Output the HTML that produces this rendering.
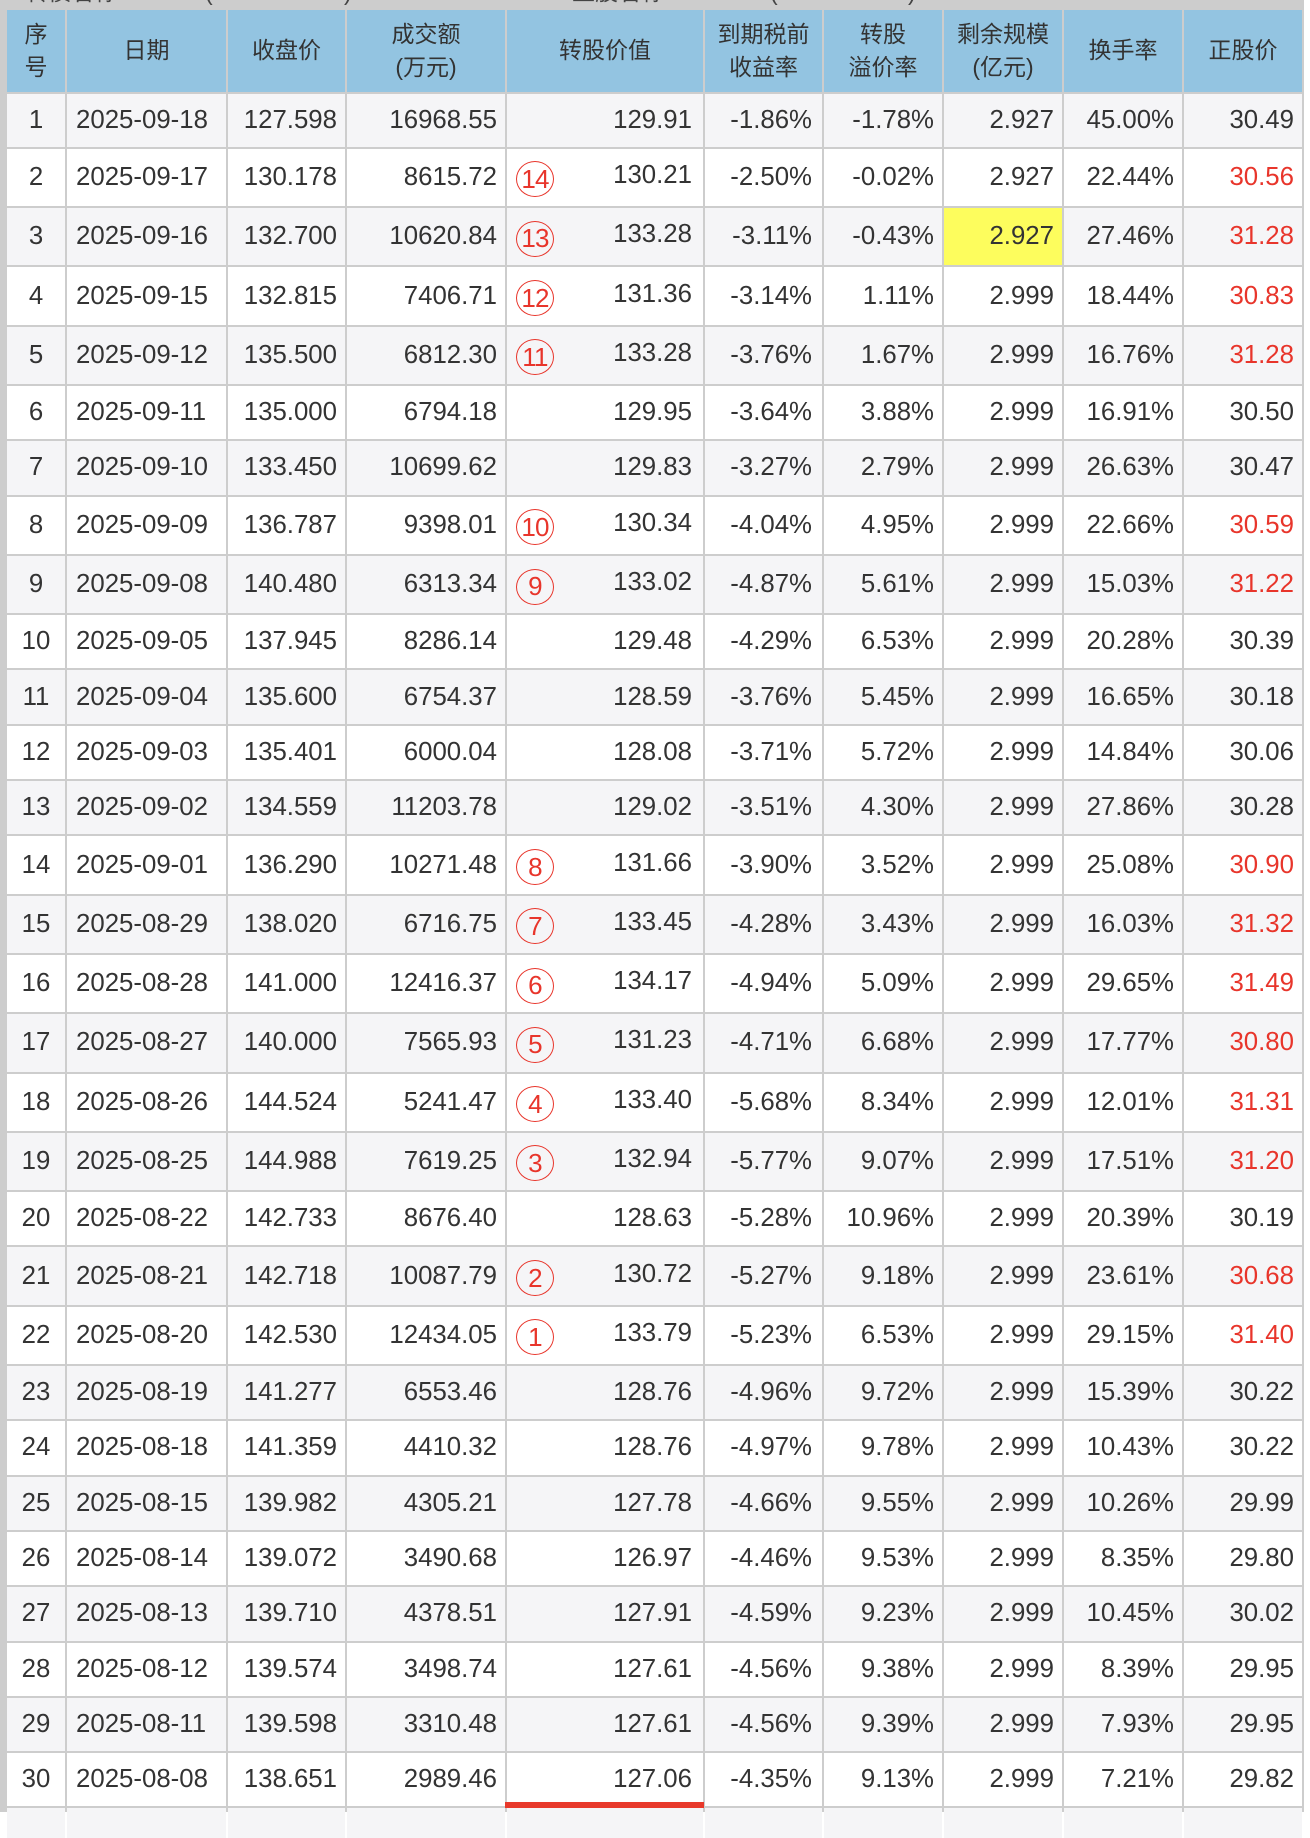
<!DOCTYPE html>
<html><head><meta charset="utf-8"><style>
html,body{margin:0;padding:0;}
body{width:1310px;height:1812px;overflow:hidden;background:#fff;position:relative;font-family:"Liberation Sans","Noto Sans CJK SC",sans-serif;color:#333;}
.bg{position:absolute;left:0;top:0;width:1304px;height:1812px;background:#cdcdcd;}
.tt{position:absolute;top:0;left:0;width:1304px;height:10px;overflow:hidden;}
.tt span{position:absolute;top:-19px;font-size:23px;line-height:23px;color:#444;white-space:nowrap;}
.g{position:absolute;left:7px;top:10px;display:grid;
grid-template-columns:58px 159px 117px 158px 196px 117px 118px 118px 118px 118px;
column-gap:2px;row-gap:2px;
grid-template-rows:81.5px 53.3px 57.3px 57.3px 57.3px 57.3px 53.3px 53.3px 57.3px 57.3px 53.3px 53.3px 53.3px 53.3px 57.3px 57.3px 57.3px 57.3px 57.3px 57.3px 53.3px 57.3px 57.3px 53.3px 53.3px 53.3px 53.3px 53.3px 53.3px 53.3px 53.3px 30px;}
.r{display:contents;}
.r>div{display:flex;align-items:center;justify-content:flex-end;padding-right:8px;font-size:25.8px;white-space:nowrap;min-width:0;overflow:hidden;}
.o>div{background:#f5f5f7;}
.e>div{background:#fff;}
.h>div{background:#93c4e1;font-size:23px;line-height:33px;justify-content:center;text-align:center;padding:0;}
.r>div:nth-child(1){justify-content:center;padding:0;}
.r>div:nth-child(2){justify-content:flex-start;padding-left:9px;padding-right:0;}
.r>div:nth-child(5){padding-left:9px;padding-right:11px;}
.r>div:nth-child(6){padding-right:10px;}
.h>div:nth-child(2),.h>div:nth-child(5),.h>div:nth-child(6){justify-content:center;padding:0;}
.v{margin-left:auto;}
.m+.v{position:relative;top:-2px;}
.m{width:38px;height:36px;box-sizing:border-box;border:1.8px solid #e8352b;border-radius:50%;color:#e8352b;font-size:26px;letter-spacing:-0.8px;display:flex;align-items:center;justify-content:center;flex:none;position:relative;top:2px;}
.red{color:#e8352b;}
.r>div.y{background:#fdfd5d;}
.bar{position:absolute;left:505px;top:1802px;width:199px;height:6px;background:#e8392b;}
</style></head><body>
<div class="bg"></div>
<div class="tt">
<span style="left:25px">转债名称</span><span style="left:205px">(</span><span style="left:344px">)</span>
<span style="left:572px">正股名称</span><span style="left:770px">(</span><span style="left:908px">)</span>
</div>
<div class="g">
<div class="r h"><div>序<br>号</div><div>日期</div><div>收盘价</div><div>成交额<br>(万元)</div><div>转股价值</div><div>到期税前<br>收益率</div><div>转股<br>溢价率</div><div>剩余规模<br>(亿元)</div><div>换手率</div><div>正股价</div></div>
<div class="r o"><div>1</div><div>2025-09-18</div><div>127.598</div><div>16968.55</div><div><span class="v">129.91</span></div><div>-1.86%</div><div>-1.78%</div><div>2.927</div><div>45.00%</div><div>30.49</div></div>
<div class="r e"><div>2</div><div>2025-09-17</div><div>130.178</div><div>8615.72</div><div><span class="m">14</span><span class="v">130.21</span></div><div>-2.50%</div><div>-0.02%</div><div>2.927</div><div>22.44%</div><div class="red">30.56</div></div>
<div class="r o"><div>3</div><div>2025-09-16</div><div>132.700</div><div>10620.84</div><div><span class="m">13</span><span class="v">133.28</span></div><div>-3.11%</div><div>-0.43%</div><div class="y">2.927</div><div>27.46%</div><div class="red">31.28</div></div>
<div class="r e"><div>4</div><div>2025-09-15</div><div>132.815</div><div>7406.71</div><div><span class="m">12</span><span class="v">131.36</span></div><div>-3.14%</div><div>1.11%</div><div>2.999</div><div>18.44%</div><div class="red">30.83</div></div>
<div class="r o"><div>5</div><div>2025-09-12</div><div>135.500</div><div>6812.30</div><div><span class="m">11</span><span class="v">133.28</span></div><div>-3.76%</div><div>1.67%</div><div>2.999</div><div>16.76%</div><div class="red">31.28</div></div>
<div class="r e"><div>6</div><div>2025-09-11</div><div>135.000</div><div>6794.18</div><div><span class="v">129.95</span></div><div>-3.64%</div><div>3.88%</div><div>2.999</div><div>16.91%</div><div>30.50</div></div>
<div class="r o"><div>7</div><div>2025-09-10</div><div>133.450</div><div>10699.62</div><div><span class="v">129.83</span></div><div>-3.27%</div><div>2.79%</div><div>2.999</div><div>26.63%</div><div>30.47</div></div>
<div class="r e"><div>8</div><div>2025-09-09</div><div>136.787</div><div>9398.01</div><div><span class="m">10</span><span class="v">130.34</span></div><div>-4.04%</div><div>4.95%</div><div>2.999</div><div>22.66%</div><div class="red">30.59</div></div>
<div class="r o"><div>9</div><div>2025-09-08</div><div>140.480</div><div>6313.34</div><div><span class="m">9</span><span class="v">133.02</span></div><div>-4.87%</div><div>5.61%</div><div>2.999</div><div>15.03%</div><div class="red">31.22</div></div>
<div class="r e"><div>10</div><div>2025-09-05</div><div>137.945</div><div>8286.14</div><div><span class="v">129.48</span></div><div>-4.29%</div><div>6.53%</div><div>2.999</div><div>20.28%</div><div>30.39</div></div>
<div class="r o"><div>11</div><div>2025-09-04</div><div>135.600</div><div>6754.37</div><div><span class="v">128.59</span></div><div>-3.76%</div><div>5.45%</div><div>2.999</div><div>16.65%</div><div>30.18</div></div>
<div class="r e"><div>12</div><div>2025-09-03</div><div>135.401</div><div>6000.04</div><div><span class="v">128.08</span></div><div>-3.71%</div><div>5.72%</div><div>2.999</div><div>14.84%</div><div>30.06</div></div>
<div class="r o"><div>13</div><div>2025-09-02</div><div>134.559</div><div>11203.78</div><div><span class="v">129.02</span></div><div>-3.51%</div><div>4.30%</div><div>2.999</div><div>27.86%</div><div>30.28</div></div>
<div class="r e"><div>14</div><div>2025-09-01</div><div>136.290</div><div>10271.48</div><div><span class="m">8</span><span class="v">131.66</span></div><div>-3.90%</div><div>3.52%</div><div>2.999</div><div>25.08%</div><div class="red">30.90</div></div>
<div class="r o"><div>15</div><div>2025-08-29</div><div>138.020</div><div>6716.75</div><div><span class="m">7</span><span class="v">133.45</span></div><div>-4.28%</div><div>3.43%</div><div>2.999</div><div>16.03%</div><div class="red">31.32</div></div>
<div class="r e"><div>16</div><div>2025-08-28</div><div>141.000</div><div>12416.37</div><div><span class="m">6</span><span class="v">134.17</span></div><div>-4.94%</div><div>5.09%</div><div>2.999</div><div>29.65%</div><div class="red">31.49</div></div>
<div class="r o"><div>17</div><div>2025-08-27</div><div>140.000</div><div>7565.93</div><div><span class="m">5</span><span class="v">131.23</span></div><div>-4.71%</div><div>6.68%</div><div>2.999</div><div>17.77%</div><div class="red">30.80</div></div>
<div class="r e"><div>18</div><div>2025-08-26</div><div>144.524</div><div>5241.47</div><div><span class="m">4</span><span class="v">133.40</span></div><div>-5.68%</div><div>8.34%</div><div>2.999</div><div>12.01%</div><div class="red">31.31</div></div>
<div class="r o"><div>19</div><div>2025-08-25</div><div>144.988</div><div>7619.25</div><div><span class="m">3</span><span class="v">132.94</span></div><div>-5.77%</div><div>9.07%</div><div>2.999</div><div>17.51%</div><div class="red">31.20</div></div>
<div class="r e"><div>20</div><div>2025-08-22</div><div>142.733</div><div>8676.40</div><div><span class="v">128.63</span></div><div>-5.28%</div><div>10.96%</div><div>2.999</div><div>20.39%</div><div>30.19</div></div>
<div class="r o"><div>21</div><div>2025-08-21</div><div>142.718</div><div>10087.79</div><div><span class="m">2</span><span class="v">130.72</span></div><div>-5.27%</div><div>9.18%</div><div>2.999</div><div>23.61%</div><div class="red">30.68</div></div>
<div class="r e"><div>22</div><div>2025-08-20</div><div>142.530</div><div>12434.05</div><div><span class="m">1</span><span class="v">133.79</span></div><div>-5.23%</div><div>6.53%</div><div>2.999</div><div>29.15%</div><div class="red">31.40</div></div>
<div class="r o"><div>23</div><div>2025-08-19</div><div>141.277</div><div>6553.46</div><div><span class="v">128.76</span></div><div>-4.96%</div><div>9.72%</div><div>2.999</div><div>15.39%</div><div>30.22</div></div>
<div class="r e"><div>24</div><div>2025-08-18</div><div>141.359</div><div>4410.32</div><div><span class="v">128.76</span></div><div>-4.97%</div><div>9.78%</div><div>2.999</div><div>10.43%</div><div>30.22</div></div>
<div class="r o"><div>25</div><div>2025-08-15</div><div>139.982</div><div>4305.21</div><div><span class="v">127.78</span></div><div>-4.66%</div><div>9.55%</div><div>2.999</div><div>10.26%</div><div>29.99</div></div>
<div class="r e"><div>26</div><div>2025-08-14</div><div>139.072</div><div>3490.68</div><div><span class="v">126.97</span></div><div>-4.46%</div><div>9.53%</div><div>2.999</div><div>8.35%</div><div>29.80</div></div>
<div class="r o"><div>27</div><div>2025-08-13</div><div>139.710</div><div>4378.51</div><div><span class="v">127.91</span></div><div>-4.59%</div><div>9.23%</div><div>2.999</div><div>10.45%</div><div>30.02</div></div>
<div class="r e"><div>28</div><div>2025-08-12</div><div>139.574</div><div>3498.74</div><div><span class="v">127.61</span></div><div>-4.56%</div><div>9.38%</div><div>2.999</div><div>8.39%</div><div>29.95</div></div>
<div class="r o"><div>29</div><div>2025-08-11</div><div>139.598</div><div>3310.48</div><div><span class="v">127.61</span></div><div>-4.56%</div><div>9.39%</div><div>2.999</div><div>7.93%</div><div>29.95</div></div>
<div class="r e"><div>30</div><div>2025-08-08</div><div>138.651</div><div>2989.46</div><div><span class="v">127.06</span></div><div>-4.35%</div><div>9.13%</div><div>2.999</div><div>7.21%</div><div>29.82</div></div>
<div class="r o"><div></div><div></div><div></div><div></div><div></div><div></div><div></div><div></div><div></div><div></div></div>
</div>
<div class="bar"></div>
</body></html>
